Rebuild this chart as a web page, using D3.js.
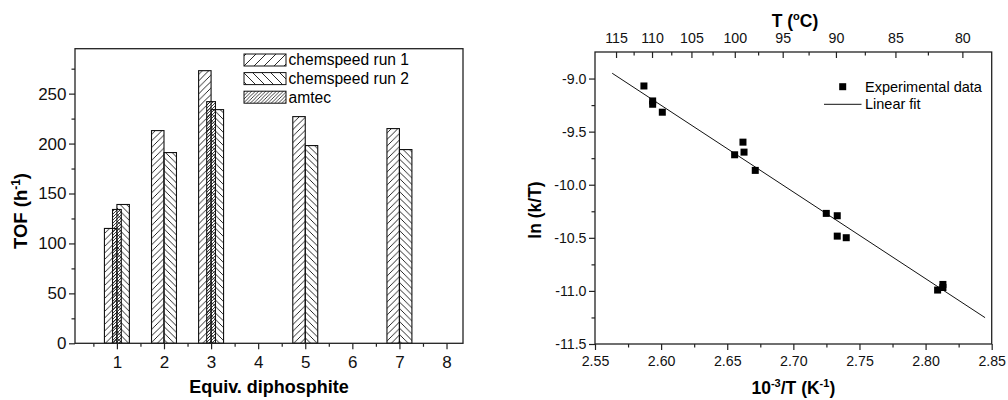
<!DOCTYPE html>
<html>
<head>
<meta charset="utf-8">
<script src="https://cdn.jsdelivr.net/npm/d3@7"></script>
<style>
  html, body { margin: 0; padding: 0; background: #fff; }
  svg { display: block; font-family: "Liberation Sans", Arial, sans-serif; }
  .axis path, .axis line { stroke: #222; stroke-width: 1.2; }
  .axis text { fill: #111; }
</style>
</head>
<body>
<svg id="chart" width="1008" height="400"></svg>
<script>
// ---- Left panel: TOF vs. equivalents of diphosphite ----
const equivCategories = [1, 2, 3, 5, 7];
const chemspeedRun1 = [115, 213, 273, 227, 215];
const chemspeedRun2 = [139, 191, 234, 198, 194];
const amtecCategories = [1, 3];
const amtecValues = [134, 242];
const equivTicks = [1, 2, 3, 4, 5, 6, 7, 8];
const equivMinorTicks = [0.5, 1.5, 2.5, 3.5, 4.5, 5.5, 6.5, 7.5];
const tofTicks = [0, 50, 100, 150, 200, 250];
const tofMinorTicks = [25, 75, 125, 175, 225, 275];
const leftLegend = ["chemspeed run 1", "chemspeed run 2", "amtec"];

// ---- Right panel: Arrhenius-type plot ----
const invT = [2.587, 2.5936, 2.5936, 2.6009, 2.6556, 2.6619, 2.6627, 2.6712,
              2.7249, 2.7332, 2.7332, 2.7400, 2.8091, 2.8131, 2.8131];
const lnKT = [-9.07, -9.211, -9.242, -9.317, -9.718, -9.599, -9.693, -9.865,
              -10.27, -10.292, -10.484, -10.499, -10.992, -10.939, -10.968];
const fitX = [2.563, 2.845];
const fitY = [-8.95, -11.252];
const invTTicks = [2.55, 2.60, 2.65, 2.70, 2.75, 2.80, 2.85];
const invTMinorTicks = [2.575, 2.625, 2.675, 2.725, 2.775, 2.825];
const lnTicks = [-11.5, -11.0, -10.5, -10.0, -9.5, -9.0];
const lnMinorTicks = [-11.25, -10.75, -10.25, -9.75, -9.25];
const tempTicks = [115, 110, 105, 100, 95, 90, 85, 80];
const tempMinorTicks = [112.5, 107.5, 102.5, 97.5, 92.5, 87.5, 82.5];
const tempRange = [118.14, 77.99];
const rightLegend = ["Experimental data", "Linear fit"];

const svg = d3.select("#chart");
const defs = svg.append("defs");

// hatch patterns: forward slash, back slash, dense forward slash
function hatch(id, size, dir, width) {
  const p = defs.append("pattern").attr("id", id)
    .attr("patternUnits", "userSpaceOnUse")
    .attr("width", size).attr("height", size);
  const s = size;
  const d = dir === "/"
    ? `M${-s / 2},${s / 2} L${s / 2},${-s / 2} M0,${s} L${s},0 M${s / 2},${s * 1.5} L${s * 1.5},${s / 2}`
    : `M${-s / 2},${s / 2} L${s / 2},${s * 1.5} M0,0 L${s},${s} M${s / 2},${-s / 2} L${s * 1.5},${s / 2}`;
  p.append("path").attr("d", d).attr("stroke", "#111").attr("stroke-width", width).attr("fill", "none");
}
hatch("h-run1", 6.5, "/", 0.9);
hatch("h-run2", 6.5, "\\", 0.9);
hatch("h-amtec", 3, "/", 0.8);
hatch("hl-run1", 10, "/", 0.9);
hatch("hl-run2", 9, "\\", 0.9);
hatch("hl-amtec", 3.5, "/", 0.8);

// ================= Left panel =================
const L = { left: 75, right: 463, top: 48.7, bottom: 343.3 };
const xL = d3.scaleLinear().domain([0.11, 8.35]).range([L.left, L.right]);
const yL = d3.scaleLinear().domain([0, 295]).range([L.bottom, L.top]);
const gL = svg.append("g");

const barW = 0.265, amtecW = 0.186;

gL.append("g").selectAll("rect").data(equivCategories).join("rect")
  .attr("x", (d) => xL(d - barW))
  .attr("width", (d) => xL(d) - xL(d - barW))
  .attr("y", (d, i) => yL(chemspeedRun1[i]))
  .attr("height", (d, i) => yL(0) - yL(chemspeedRun1[i]))
  .attr("fill", "url(#h-run1)").attr("stroke", "#111").attr("stroke-width", 1.1);

gL.append("g").selectAll("rect").data(equivCategories).join("rect")
  .attr("x", (d) => xL(d))
  .attr("width", (d) => xL(d + barW) - xL(d))
  .attr("y", (d, i) => yL(chemspeedRun2[i]))
  .attr("height", (d, i) => yL(0) - yL(chemspeedRun2[i]))
  .attr("fill", "url(#h-run2)").attr("stroke", "#111").attr("stroke-width", 1.1);

gL.append("g").selectAll("rect").data(amtecCategories).join("rect")
  .attr("x", (d) => xL(d - amtecW / 2))
  .attr("width", (d) => xL(d + amtecW / 2) - xL(d - amtecW / 2))
  .attr("y", (d, i) => yL(amtecValues[i]))
  .attr("height", (d, i) => yL(0) - yL(amtecValues[i]))
  .attr("fill", "url(#h-amtec)").attr("stroke", "#111").attr("stroke-width", 1.1);

// frame
gL.append("rect").attr("x", L.left).attr("y", L.top)
  .attr("width", L.right - L.left).attr("height", L.bottom - L.top)
  .attr("fill", "none").attr("stroke", "#222").attr("stroke-width", 1.3);

// axes
gL.append("g").attr("class", "axis").attr("transform", `translate(0,${L.bottom})`)
  .call(d3.axisBottom(xL).tickValues(equivTicks).tickFormat(d3.format("d"))
    .tickSize(6).tickSizeOuter(0).tickPadding(6.6))
  .call((g) => g.select(".domain").remove())
  .selectAll("text").attr("font-size", 17);
gL.append("g").attr("class", "axis").attr("transform", `translate(0,${L.bottom})`)
  .call(d3.axisBottom(xL).tickValues(equivMinorTicks).tickFormat("").tickSize(3.5).tickSizeOuter(0))
  .call((g) => g.select(".domain").remove());
gL.append("g").attr("class", "axis").attr("transform", `translate(${L.left},0)`)
  .call(d3.axisLeft(yL).tickValues(tofTicks).tickFormat(d3.format("d"))
    .tickSize(6).tickSizeOuter(0).tickPadding(2.5))
  .call((g) => g.select(".domain").remove())
  .selectAll("text").attr("font-size", 17);
gL.append("g").attr("class", "axis").attr("transform", `translate(${L.left},0)`)
  .call(d3.axisLeft(yL).tickValues(tofMinorTicks).tickFormat("").tickSize(3.5).tickSizeOuter(0))
  .call((g) => g.select(".domain").remove());

// titles
gL.append("text").attr("x", (L.left + L.right) / 2).attr("y", 393)
  .attr("text-anchor", "middle").attr("font-size", 18).attr("font-weight", "bold")
  .text("Equiv. diphosphite");
const yTitle = gL.append("text").attr("transform", "translate(27,211) rotate(-90)")
  .attr("text-anchor", "middle").attr("font-size", 18.5).attr("font-weight", "bold");
yTitle.append("tspan").text("TOF (h");
yTitle.append("tspan").attr("font-size", 12).attr("dy", -7).text("-1");
yTitle.append("tspan").attr("dy", 7).text(")");

// legend
const legL = gL.append("g");
const legendFills = ["url(#hl-run1)", "url(#hl-run2)", "url(#hl-amtec)"];
leftLegend.forEach((name, i) => {
  const y = 54 + i * 18.6;
  legL.append("rect").attr("x", 244).attr("y", y).attr("width", 42).attr("height", 12)
    .attr("fill", legendFills[i]).attr("stroke", "#111").attr("stroke-width", 1);
  legL.append("text").attr("x", 288.5).attr("y", y + 11.3).attr("font-size", 15.6).text(name);
});

// ================= Right panel =================
const R = { left: 595, right: 991.7, top: 52, bottom: 344 };
const xR = d3.scaleLinear().domain([2.55, 2.85]).range([R.left, R.right]);
const yR = d3.scaleLinear().domain([-11.5, -8.75]).range([R.bottom, R.top]);
// the Celsius axis on top is reciprocal in temperature
const tR = d3.scaleLinear().domain([1 / tempRange[0], 1 / tempRange[1]]).range([R.left, R.right]);
const gR = svg.append("g");

gR.append("rect").attr("x", R.left).attr("y", R.top)
  .attr("width", R.right - R.left).attr("height", R.bottom - R.top)
  .attr("fill", "none").attr("stroke", "#222").attr("stroke-width", 1.3);

// fit line
gR.append("path")
  .datum(fitX.map((x, i) => [x, fitY[i]]))
  .attr("d", d3.line().x((d) => xR(d[0])).y((d) => yR(d[1])))
  .attr("stroke", "#111").attr("stroke-width", 1).attr("fill", "none");

// data points
const sq = 7;
gR.append("g").selectAll("rect").data(invT).join("rect")
  .attr("x", (d) => xR(d) - sq / 2)
  .attr("y", (d, i) => yR(lnKT[i]) - sq / 2)
  .attr("width", sq).attr("height", sq).attr("fill", "#000");

const fmt2 = (v) => v.toFixed(2);
const fmt1 = (v) => v.toFixed(1);

gR.append("g").attr("class", "axis").attr("transform", `translate(0,${R.bottom})`)
  .call(d3.axisBottom(xR).tickValues(invTTicks).tickFormat(fmt2)
    .tickSize(6).tickSizeOuter(0).tickPadding(6.2))
  .call((g) => g.select(".domain").remove())
  .selectAll("text").attr("font-size", 14.2);
gR.append("g").attr("class", "axis").attr("transform", `translate(0,${R.bottom})`)
  .call(d3.axisBottom(xR).tickValues(invTMinorTicks).tickFormat("").tickSize(3.5).tickSizeOuter(0))
  .call((g) => g.select(".domain").remove());
gR.append("g").attr("class", "axis").attr("transform", `translate(${R.left},0)`)
  .call(d3.axisLeft(yR).tickValues(lnTicks).tickFormat(fmt1)
    .tickSize(6).tickSizeOuter(0).tickPadding(2.5))
  .call((g) => g.select(".domain").remove())
  .selectAll("text").attr("font-size", 14.2);
gR.append("g").attr("class", "axis").attr("transform", `translate(${R.left},0)`)
  .call(d3.axisLeft(yR).tickValues(lnMinorTicks).tickFormat("").tickSize(3.5).tickSizeOuter(0))
  .call((g) => g.select(".domain").remove());
gR.append("g").attr("class", "axis").attr("transform", `translate(0,${R.top})`)
  .call(d3.axisTop(tR).tickValues(tempTicks.map((t) => 1 / t))
    .tickFormat((v) => Math.round(1 / v)).tickSize(-6).tickSizeOuter(0).tickPadding(9.5))
  .call((g) => g.select(".domain").remove())
  .selectAll("text").attr("font-size", 14.2);
gR.append("g").attr("class", "axis").attr("transform", `translate(0,${R.top})`)
  .call(d3.axisTop(tR).tickValues(tempMinorTicks.map((t) => 1 / t)).tickFormat("")
    .tickSize(-3.5).tickSizeOuter(0))
  .call((g) => g.select(".domain").remove());

// titles
const xTitleR = gR.append("text").attr("x", (R.left + R.right) / 2).attr("y", 394)
  .attr("text-anchor", "middle").attr("font-size", 17.5).attr("font-weight", "bold");
xTitleR.append("tspan").text("10");
xTitleR.append("tspan").attr("font-size", 11).attr("dy", -7).text("-3");
xTitleR.append("tspan").attr("dy", 7).text("/T (K");
xTitleR.append("tspan").attr("font-size", 11).attr("dy", -7).text("-1");
xTitleR.append("tspan").attr("dy", 7).text(")");

const topTitle = gR.append("text").attr("x", 795).attr("y", 27)
  .attr("text-anchor", "middle").attr("font-size", 17.5).attr("font-weight", "bold");
topTitle.append("tspan").text("T (");
topTitle.append("tspan").attr("font-size", 11).attr("dy", -7).text("o");
topTitle.append("tspan").attr("dy", 7).text("C)");

gR.append("text").attr("transform", "translate(540.5,210) rotate(-90)")
  .attr("text-anchor", "middle").attr("font-size", 17.5).attr("font-weight", "bold")
  .text("ln (k/T)");

// legend
gR.append("rect").attr("x", 842.7 - sq / 2).attr("y", 86.7 - sq / 2)
  .attr("width", sq).attr("height", sq).attr("fill", "#000");
gR.append("text").attr("x", 865).attr("y", 91.7).attr("font-size", 14.5).text(rightLegend[0]);
gR.append("line").attr("x1", 824).attr("x2", 861.5).attr("y1", 104.3).attr("y2", 104.3)
  .attr("stroke", "#111").attr("stroke-width", 1);
gR.append("text").attr("x", 865).attr("y", 109.3).attr("font-size", 14.5).text(rightLegend[1]);
</script>
</body>
</html>
